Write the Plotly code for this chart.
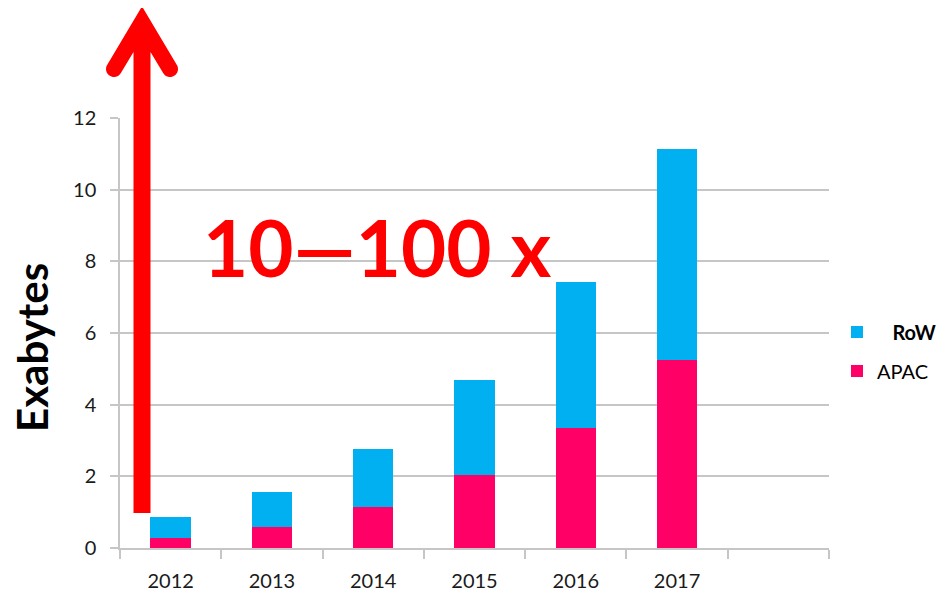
import math
import plotly.graph_objects as go

# ---- data ----
years = ["2012", "2013", "2014", "2015", "2016", "2017"]
apac = [0.29, 0.59, 1.14, 2.04, 3.35, 5.25]
row = [0.58, 0.96, 1.62, 2.65, 4.07, 5.88]
y_ticks = [0, 2, 4, 6, 8, 10, 12]

# ---- layout geometry (page has an 8px body margin) ----
OFF = 8
W, H = 947 - OFF, 593 - OFF
L, T = 120 - OFF, 118 - OFF
pw, ph = 709, 430
R, B = W - L - pw, H - T - ph
FONT = "Lato"
GRID = "#c6c6c6"


def to_paper(x, y):
    """page pixel -> paper fraction"""
    return (x - OFF - L) / pw, (T + ph - (y - OFF)) / ph


# ---- red arrow outline (page pixel space -> paper) ----
cx = 142.0
half = 8.5
A = (cx, 22.0)
E = (170.0, 69.0)
hw = 8.0
dx, dy = E[0] - A[0], E[1] - A[1]
ln = math.hypot(dx, dy)
u = (dx / ln, dy / ln)
n = (u[1], -u[0])
out_pt = (A[0] + hw * n[0], A[1] + hw * n[1])
tip_y = out_pt[1] + (cx - out_pt[0]) / u[0] * u[1]
in_pt = (A[0] - hw * n[0], A[1] - hw * n[1])
inner_y = in_pt[1] + (cx + half - in_pt[0]) / u[0] * u[1]
a0 = math.atan2(n[1], n[0])
arc_r = [(E[0] + hw * math.cos(a0 + math.pi * k / 16), E[1] + hw * math.sin(a0 + math.pi * k / 16)) for k in range(17)]
arc_l = [(2 * cx - x, y) for (x, y) in reversed(arc_r)]
shaft_bottom = 513.0
pts = [(cx, tip_y)] + arc_r + [(cx + half, inner_y), (cx + half, shaft_bottom), (cx - half, shaft_bottom), (cx - half, inner_y)] + arc_l
ppts = [to_paper(x, y) for x, y in pts]
path = "M " + " L ".join(f"{x:.5f},{y:.5f}" for x, y in ppts) + " Z"

fig = go.Figure()
fig.add_trace(go.Bar(
    x=list(range(len(years))), y=apac, name="APAC",
    marker=dict(color="#FF0066", line=dict(width=0)),
    legend="legend2", hoverinfo="y+name",
))
fig.add_trace(go.Bar(
    x=list(range(len(years))), y=row, name="&nbsp;&nbsp;&nbsp;<b>RoW</b>",
    marker=dict(color="#00B0F0", line=dict(width=0)),
    legend="legend", hoverinfo="y+name",
))

LEG_X = 837 - OFF
fig.update_layout(
    width=W, height=H,
    margin=dict(l=L, r=R, t=T, b=B, pad=0, autoexpand=False),
    barmode="stack", bargap=0.6,
    plot_bgcolor="white", paper_bgcolor="white",
    font=dict(family=FONT, size=20, color="#1a1a1a"),
    xaxis=dict(
        range=[-0.5, 6.5], tickmode="array", tickvals=list(range(len(years))), ticktext=years,
        ticks="", showgrid=False, zeroline=False,
        showline=True, linecolor=GRID, linewidth=1.5,
        tickfont=dict(family=FONT, size=20, color="#1a1a1a"),
        ticklabelstandoff=14,
        minor=dict(tick0=-0.5, dtick=1, ticks="outside", ticklen=9, tickcolor=GRID, tickwidth=1.5, showgrid=False),
    ),
    yaxis=dict(
        range=[0, 12], tickmode="array", tickvals=y_ticks,
        showgrid=True, gridcolor=GRID, gridwidth=1.5, zeroline=False,
        showline=True, linecolor=GRID, linewidth=1.5,
        ticks="outside", ticklen=8, tickcolor=GRID, tickwidth=1.5,
        tickfont=dict(family=FONT, size=20, color="#1a1a1a"),
        ticklabelstandoff=10,
    ),
    legend=dict(xref="container", yref="container", x=LEG_X / W, y=1 - (332 - OFF) / H,
                xanchor="left", yanchor="middle",
                font=dict(family=FONT, size=20, color="#000000"), bgcolor="rgba(0,0,0,0)"),
    legend2=dict(xref="container", yref="container", x=LEG_X / W, y=1 - (371 - OFF) / H,
                 xanchor="left", yanchor="middle",
                 font=dict(family=FONT, size=20, color="#000000"), bgcolor="rgba(0,0,0,0)"),
    showlegend=True,
    shapes=[dict(type="path", xref="paper", yref="paper", path=path,
                 fillcolor="#FF0000", line=dict(width=0), layer="above")],
    annotations=[
        dict(text="<b>10—100 x</b>", xref="paper", yref="paper",
             x=to_paper(377, 0)[0], y=to_paper(0, 247)[1], xanchor="center", yanchor="middle",
             showarrow=False, font=dict(family=FONT, size=78, color="#FF0000")),
        dict(text="<b>Exabytes</b>", xref="paper", yref="paper", textangle=-90,
             x=to_paper(32, 0)[0], y=to_paper(0, 348)[1], xanchor="center", yanchor="middle",
             showarrow=False, font=dict(family=FONT, size=42, color="#000000")),
    ],
)

fig.write_html("out.html")
